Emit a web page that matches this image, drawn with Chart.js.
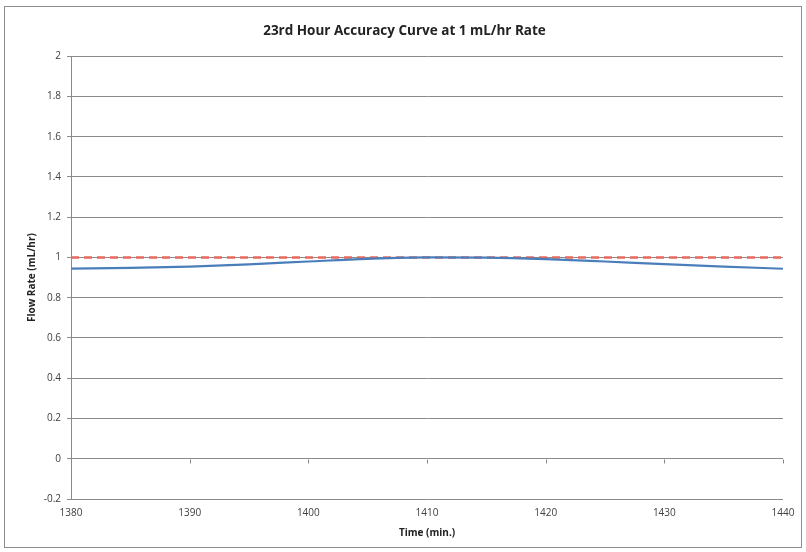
<!DOCTYPE html>
<html>
<head>
<meta charset="utf-8">
<script src="https://cdn.jsdelivr.net/npm/chart.js@4"></script>
<style>
  body { margin: 0; background: #fff; }
  #wrap { width: 806px; height: 552px; }
</style>
</head>
<body>
<div id="wrap"><canvas id="myChart" width="806" height="552"></canvas></div>
<script>
// 시간(분) 과 유량 값
const times = [1380, 1385, 1390, 1395, 1400, 1405, 1410, 1415, 1420, 1425, 1430, 1435, 1440];
const flowRate = [0.945, 0.948, 0.955, 0.966, 0.980, 0.993, 1.000, 0.999, 0.992, 0.980, 0.967, 0.955, 0.944];
const targetRate = [1, 1, 1, 1, 1, 1, 1, 1, 1, 1, 1, 1, 1];
const xTicks = [1380, 1390, 1400, 1410, 1420, 1430, 1440];

const font = "'Open Sans', 'Noto Sans', sans-serif";

// 바깥 테두리 + y=0 위치 눈금
const frame = {
    id: 'frame',
    beforeDraw(chart) {
        const c = chart.ctx;
        c.save();
        c.fillStyle = '#fff';
        c.fillRect(0, 0, chart.width, chart.height);
        c.strokeStyle = '#8c8c8c';
        c.lineWidth = 1;
        c.strokeRect(4.5, 6.5, chart.width - 9, chart.height - 11);
        c.restore();
    },
    afterDatasetsDraw(chart) {
        const c = chart.ctx, x = chart.scales.x, y = chart.scales.y;
        const y0 = Math.round(y.getPixelForValue(0)) + 0.5;
        c.save();
        c.strokeStyle = '#878787';
        c.lineWidth = 1;
        xTicks.forEach(t => {
            const px = Math.round(x.getPixelForValue(t)) + 0.5;
            c.beginPath();
            c.moveTo(px, y0);
            c.lineTo(px, y0 + 4);
            c.stroke();
        });
        c.restore();
    }
};

const ctx = document.querySelector('#myChart').getContext('2d');
new Chart(ctx, {
    type: 'line',
    data: {
        datasets: [{
            label: 'Flow',
            data: times.map((t, i) => ({ x: t, y: flowRate[i] })),
            borderColor: '#4a7ebb',
            borderWidth: 2.2,
            pointRadius: 0,
            tension: 0.4,
            cubicInterpolationMode: 'monotone'
        }, {
            label: 'Target',
            data: times.map((t, i) => ({ x: t, y: targetRate[i] })),
            borderColor: '#e8685e',
            borderWidth: 2.5,
            borderDash: [8, 5],
            pointRadius: 0
        }]
    },
    options: {
        responsive: false,
        animation: false,
        layout: { padding: { left: 26, right: 23, top: 0, bottom: 9 } },
        scales: {
            x: {
                type: 'linear',
                min: 1380,
                max: 1440,
                afterBuildTicks(scale) { scale.ticks = xTicks.map(v => ({ value: v })); },
                grid: { display: false },
                border: { display: false },
                ticks: { color: '#404040', font: { family: font, size: 10 }, padding: 0, maxRotation: 0,
                         callback: v => String(v) },
                title: { display: true, text: 'Time (min.)', color: '#222', font: { family: font, size: 10, weight: 'bold' }, padding: { top: 10 } },
                afterFit(scale) { scale.height = 44; }
            },
            y: {
                min: -0.2,
                max: 2,
                ticks: { stepSize: 0.2, color: '#404040', font: { family: font, size: 10 }, padding: 6,
                         callback: v => Math.round(v * 10) / 10 },
                grid: { color: '#8a8a8a', tickLength: 4, tickColor: '#8a8a8a' },
                border: { color: '#8a8a8a' },
                title: { display: true, text: 'Flow Rate (mL/hr)', color: '#222', font: { family: font, size: 10, weight: 'bold' }, padding: 0 },
                afterFit(scale) { scale.width = 45; }
            }
        },
        plugins: {
            legend: { display: false },
            tooltip: { enabled: false },
            title: {
                display: true,
                text: '23rd Hour Accuracy Curve at 1 mL/hr Rate',
                color: '#222',
                font: { family: font, size: 13.5, weight: 'bold' },
                padding: { top: 23, bottom: 17 }
            }
        }
    },
    plugins: [frame]
});
</script>
</body>
</html>
